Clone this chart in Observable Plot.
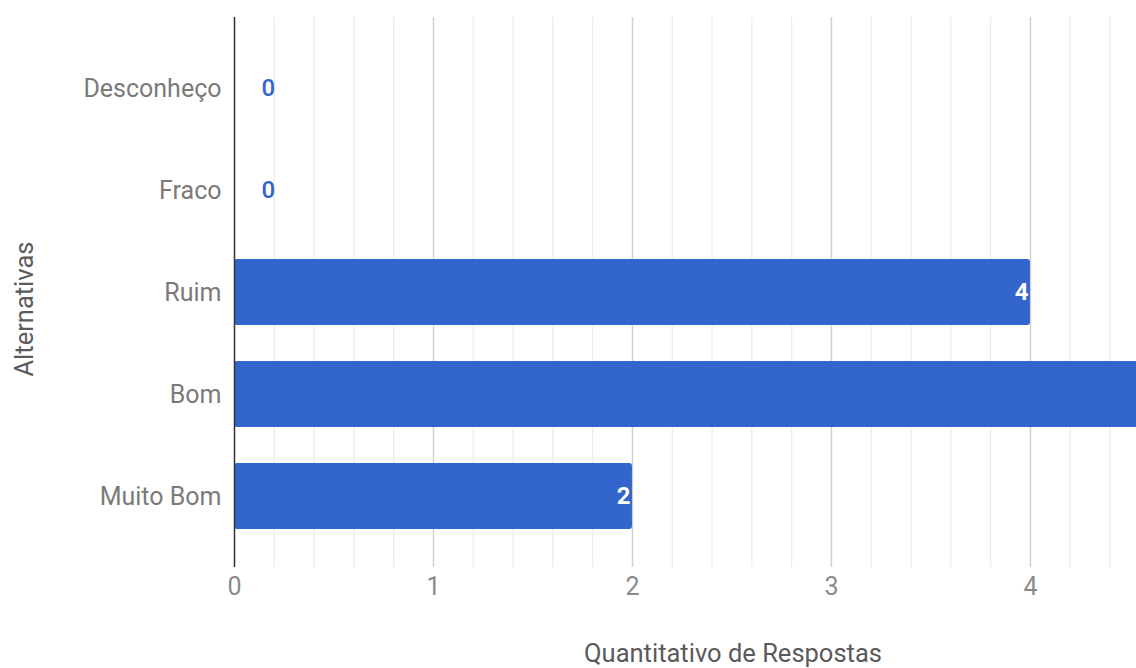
<!DOCTYPE html>
<html>
<head>
<meta charset="utf-8">
<script src="https://cdn.jsdelivr.net/npm/d3@7"></script>
<script src="https://cdn.jsdelivr.net/npm/@observablehq/plot@0.6"></script>
<style>
  html, body { margin: 0; padding: 0; background: #fff; overflow: hidden; }
  #chart { position: relative; width: 1136px; height: 668px; }
  svg { font-family: Roboto, "Open Sans", sans-serif; }
</style>
</head>
<body>
<div id="chart"></div>
<script>
const categories = ["Desconheço", "Fraco", "Ruim", "Bom", "Muito Bom"];
const values = [0, 0, 4, 5, 2];
const majorTicks = [0, 1, 2, 3, 4];
const minorTicks = [0.2, 0.4, 0.6, 0.8, 1.2, 1.4, 1.6, 1.8, 2.2, 2.4, 2.6, 2.8, 3.2, 3.4, 3.6, 3.8, 4.2, 4.4];
const xTitle = "Quantitativo de Respostas";
const yTitle = "Alternativas";

const data = categories.map((c, i) => ({category: c, value: values[i]}));

const W = 1136, H = 668;
const xMax = 4.533;
const marginLeft = 234, marginRight = 0, marginTop = 17, marginBottom = 101;

const chart = Plot.plot({
  width: W,
  height: H,
  marginLeft, marginRight, marginTop, marginBottom,
  style: {fontFamily: "Roboto, sans-serif", background: "#fff"},
  x: {domain: [0, xMax], axis: null},
  y: {domain: categories, padding: 0.35, axis: null},
  marks: [
    Plot.ruleX(minorTicks, {stroke: "#ebebeb", strokeWidth: 1.2}),
    Plot.ruleX(majorTicks.filter(d => d !== 0), {stroke: "#d0d0d0", strokeWidth: 1.5}),
    Plot.barX(data, {y: "category", x1: 0, x2: "value", fill: "#3366cc", rx: 3, clip: true}),
    Plot.ruleX([0], {stroke: "#333", strokeWidth: 1.5}),
    // value labels (only those inside the visible range)
    Plot.text(data.filter(d => d.value > 0 && d.value <= xMax), {
      y: "category", x: "value", text: d => String(d.value),
      textAnchor: "end", dx: -2, fill: "#fff", fontWeight: "bold", fontSize: 24
    }),
    Plot.text(data.filter(d => d.value === 0), {
      y: "category", x: "value", text: d => String(d.value),
      textAnchor: "start", dx: 27, fill: "#3366cc", fontSize: 24, fontWeight: 500
    }),
    // y tick labels
    Plot.text(categories, {
      y: d => d, frameAnchor: "left", dx: -13, textAnchor: "end",
      fill: "#7a7a7a", fontSize: 25
    }),
    // x tick labels
    Plot.text(majorTicks, {
      x: d => d, frameAnchor: "bottom", dy: 27, fill: "#8a8a8a", fontSize: 25
    })
  ]
});

const svg = d3.select(chart);
// rotated y title
svg.append("text")
  .attr("transform", "translate(26,309) rotate(-90)")
  .attr("text-anchor", "middle")
  .attr("dominant-baseline", "middle")
  .attr("fill", "#5a5a5a")
  .attr("font-size", 25.5)
  .attr("font-family", "Roboto, sans-serif")
  .text(yTitle);
// x title
svg.append("text")
  .attr("x", 733)
  .attr("y", 655)
  .attr("text-anchor", "middle")
  .attr("dominant-baseline", "middle")
  .attr("fill", "#5a5a5a")
  .attr("font-size", 25.5)
  .attr("font-family", "Roboto, sans-serif")
  .text(xTitle);

document.getElementById("chart").appendChild(chart);
</script>
</body>
</html>
